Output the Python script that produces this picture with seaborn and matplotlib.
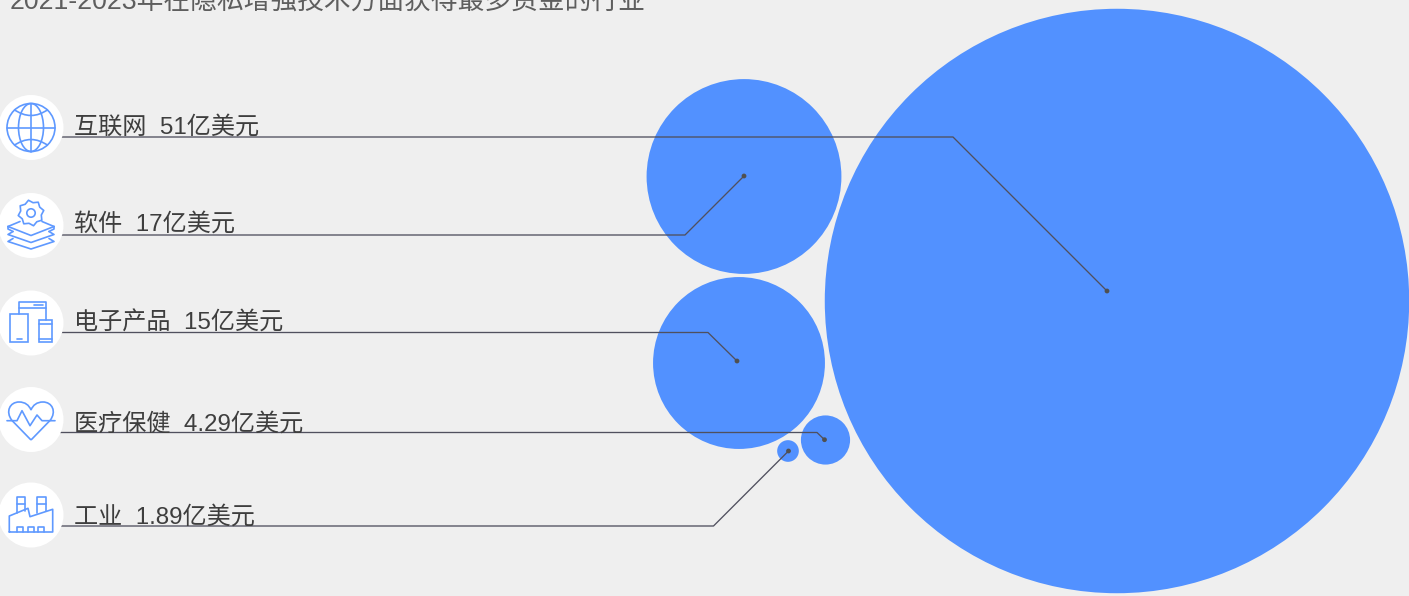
import math

import matplotlib
matplotlib.use("Agg")
import matplotlib.pyplot as plt
import pandas as pd
import seaborn as sns
from matplotlib.patches import Circle, Ellipse, PathPatch, Polygon, Rectangle
from matplotlib.path import Path

# Data
industries = ["互联网", "软件", "电子产品", "医疗保健", "工业"]
funding = [51, 17, 15, 4.29, 1.89]
funding_text = ["51", "17", "15", "4.29", "1.89"]
unit = "亿美元"
title = "2021-2023年在隐私增强技术方面获得最多资金的行业"

# Layout in canvas pixels
W, H = 1409, 596
DPI = 100
PX_PER_UNIT = 5.73
bubble_x = [1117, 744, 739, 825.5, 788]
bubble_y = [301, 176.5, 363, 440, 451]
badge_y = [127.5, 225.5, 323, 419.5, 515]
text_y = [133.5, 230.5, 329.5, 430.5, 523.5]
rule_y = [137, 235, 332.5, 432.5, 526]
elbow_x = [953, 685, 708, 817, 713.5]
anchor_x = [1107, 744, 737, 824.5, 788.5]
anchor_y = [291, 176, 361, 439.7, 451]

BG = "#EFEFEF"
BLUE = "#5291FF"
ICON = "#5F99FF"
RULE = "#50505E"
TEXT = "#3E3E3E"
CJK = ["Liberation Sans", "Noto Sans CJK SC", "DejaVu Sans"]

sns.set_theme(style="white")
plt.rcParams["font.family"] = CJK

fig = plt.figure(figsize=(W / DPI, H / DPI), dpi=DPI, facecolor=BG)
ax = fig.add_axes([0, 0, 1, 1], facecolor=BG)

# Bubble radius grows linearly with the funding amount
df = pd.DataFrame({"industry": industries, "funding": funding,
                   "x": bubble_x, "y": bubble_y})
marker_area = {
    name: (2 * value * PX_PER_UNIT * 72 / DPI) ** 2
    for name, value in zip(industries, funding)
}
sns.scatterplot(data=df, x="x", y="y", size="industry", sizes=marker_area,
                color=BLUE, linewidth=0, alpha=1, legend=False, ax=ax, zorder=2)

ax.set_xlim(0, W)
ax.set_ylim(H, 0)
ax.axis("off")

line_style = dict(color=ICON, lw=1.2, solid_capstyle="round", zorder=5)
patch_style = dict(fill=False, edgecolor=ICON, lw=1.2, zorder=5)


def polyline(*pts):
    ax.plot([p[0] for p in pts], [p[1] for p in pts], **line_style)


def globe_icon(cx, cy):
    r = 24
    ax.add_patch(Circle((cx, cy), r, **patch_style))
    ax.add_patch(Ellipse((cx, cy), 25, 2 * r, **patch_style))
    polyline((cx, cy - r), (cx, cy + r))
    polyline((cx - r, cy), (cx + r, cy))
    for sign in (-1, 1):
        ax.add_patch(PathPatch(
            Path([(cx - 17, cy + sign * 18), (cx, cy + sign * 6), (cx + 17, cy + sign * 18)],
                 [Path.MOVETO, Path.CURVE3, Path.CURVE3]), **patch_style))


def gear_icon(cx, cy):
    gy = cy - 12.5
    teeth = []
    for i in range(16):
        angle = math.radians(i * 22.5 + 11.25)
        radius = 13 if i % 2 == 0 else 10.5
        teeth.append((cx + radius * math.sin(angle), gy + radius * math.cos(angle)))
    ax.add_patch(Polygon(teeth, closed=True, joinstyle="round", **patch_style))
    ax.add_patch(Circle((cx, gy), 4.2, **patch_style))
    top = cy + 1
    polyline((cx - 23, top), (cx - 11, top - 5))
    polyline((cx + 11, top - 5), (cx + 23, top))
    polyline((cx - 23, top), (cx, top + 9), (cx + 23, top))
    polyline((cx - 23, top), (cx - 23, top + 2.5), (cx - 18, top + 5))
    polyline((cx + 23, top), (cx + 23, top + 2.5), (cx + 18, top + 5))
    polyline((cx - 18, top + 5), (cx - 23, top + 8), (cx, top + 16), (cx + 23, top + 8), (cx + 18, top + 5))
    polyline((cx - 18, top + 12), (cx - 23, top + 15), (cx, top + 22.5), (cx + 23, top + 15), (cx + 18, top + 12))


def devices_icon(cx, cy):
    polyline((cx - 12, cy - 9), (cx - 12, cy - 21), (cx + 15, cy - 21), (cx + 15, cy - 3))
    polyline((cx - 12, cy - 15), (cx + 15, cy - 15))
    polyline((cx + 3, cy - 18), (cx + 12, cy - 18))
    ax.add_patch(Rectangle((cx - 21, cy - 9), 18, 28, **patch_style))
    polyline((cx - 14, cy + 16), (cx - 9, cy + 16))
    ax.add_patch(Rectangle((cx + 8, cy - 3), 13, 22, **patch_style))
    polyline((cx + 8, cy + 1), (cx + 21, cy + 1))
    polyline((cx + 8, cy + 16), (cx + 21, cy + 16))


def heart_icon(cx, cy):
    verts = [(cx, cy + 20.5), (cx - 19, cy + 1),
             (cx - 26, cy - 8), (cx - 21, cy - 17.5), (cx - 12, cy - 17.5),
             (cx - 6, cy - 17.5), (cx - 2, cy - 14.5), (cx, cy - 9.5),
             (cx + 2, cy - 14.5), (cx + 6, cy - 17.5), (cx + 12, cy - 17.5),
             (cx + 21, cy - 17.5), (cx + 26, cy - 8), (cx + 19, cy + 1),
             (cx, cy + 20.5)]
    codes = [Path.MOVETO, Path.LINETO] + [Path.CURVE4] * 12 + [Path.LINETO]
    ax.add_patch(PathPatch(Path(verts, codes), **patch_style))
    polyline((cx - 24, cy + 1.2), (cx - 14, cy + 1.2), (cx - 9, cy - 8.8),
             (cx - 1, cy + 6.2), (cx + 6, cy - 4.5), (cx + 11, cy + 1.2), (cx + 24, cy + 1.2))


def factory_icon(cx, cy):
    polyline((cx - 21.7, cy + 17), (cx - 21.7, cy + 1), (cx - 3, cy - 6.7), (cx - 1, cy + 1.7),
             (cx + 21.7, cy - 5.7), (cx + 21.7, cy + 17), (cx - 21.7, cy + 17))
    for left, right in ((-14, -6), (6, 15)):
        polyline((cx + left, cy - 2), (cx + left, cy - 18), (cx + right, cy - 18), (cx + right, cy - 4))
        polyline((cx + left, cy - 11), (cx + right, cy - 11))
    for left in (-14, -3, 7):
        polyline((cx + left, cy + 17), (cx + left, cy + 12), (cx + left + 5.5, cy + 12), (cx + left + 5.5, cy + 17))


icon_painters = [globe_icon, gear_icon, devices_icon, heart_icon, factory_icon]
BADGE_X = 31

for i, name in enumerate(industries):
    # Leader from the label rule down to the bubble
    ax.plot([BADGE_X, elbow_x[i], anchor_x[i]], [rule_y[i], rule_y[i], anchor_y[i]],
            color=RULE, lw=0.95, zorder=3)
    ax.add_patch(Circle((anchor_x[i], anchor_y[i]), 2.4, color="#505050", lw=0, zorder=4))
    ax.add_patch(Circle((BADGE_X, badge_y[i]), 32.5, color="white", lw=0, zorder=4))
    icon_painters[i](BADGE_X, badge_y[i])
    ax.text(74.5, text_y[i], f"{name}  {funding_text[i]}{unit}", fontsize=17.4,
            color=TEXT, va="baseline", ha="left", family=CJK, zorder=6)

ax.text(10, 8.5, title, fontsize=19.3, color="#5E5E5E", va="baseline", ha="left",
        family=CJK, zorder=6)

fig.savefig("out.png", dpi=DPI, facecolor=BG)
